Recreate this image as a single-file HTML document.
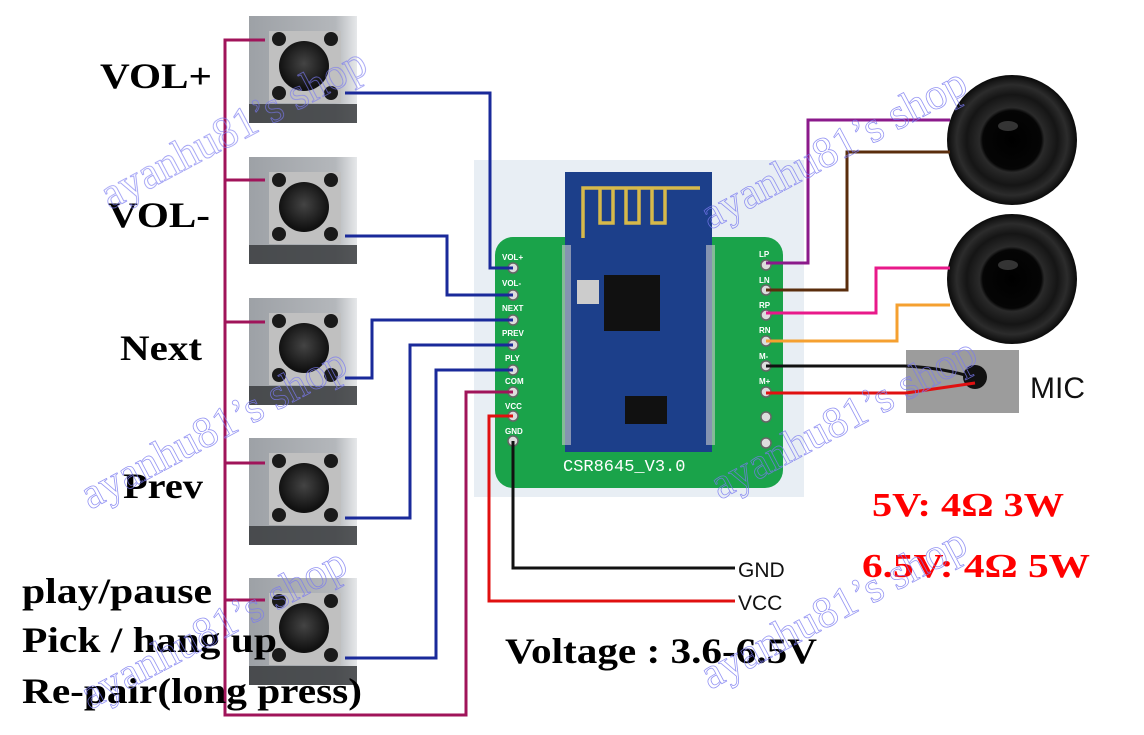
<!DOCTYPE html>
<html><head><meta charset="utf-8"><style>html,body{margin:0;padding:0;background:#fff}svg{display:block}</style></head>
<body>
<svg width="1144" height="735" viewBox="0 0 1144 735" xmlns="http://www.w3.org/2000/svg">
<defs>
<radialGradient id="btn" cx="50%" cy="45%" r="50%"><stop offset="0" stop-color="#444"/><stop offset="1" stop-color="#111"/></radialGradient>
<linearGradient id="bbg" x1="0" y1="0" x2="1" y2="0"><stop offset="0" stop-color="#9da1a6"/><stop offset="0.8" stop-color="#b4b7bb"/><stop offset="1" stop-color="#e6e8ea"/></linearGradient>
<radialGradient id="spk" cx="50%" cy="50%" r="50%"><stop offset="0" stop-color="#000"/><stop offset="0.45" stop-color="#050505"/><stop offset="0.5" stop-color="#2a2a2a"/><stop offset="0.7" stop-color="#151515"/><stop offset="0.85" stop-color="#2c2c2c"/><stop offset="1" stop-color="#0a0a0a"/></radialGradient>
<g id="button">
<rect x="0" y="0" width="108" height="107" fill="url(#bbg)"/>
<rect x="0" y="88" width="108" height="19" fill="#3a3c3e" opacity="0.85"/>
<rect x="20" y="15" width="72" height="72" fill="#c0c0c0"/>
<circle cx="55" cy="50" r="25" fill="url(#btn)"/>
<circle cx="30" cy="23" r="7" fill="#1a1a1a"/><circle cx="82" cy="23" r="7" fill="#1a1a1a"/>
<circle cx="30" cy="77" r="7" fill="#1a1a1a"/><circle cx="82" cy="77" r="7" fill="#1a1a1a"/>
</g>
</defs>

<rect x="474" y="160" width="330" height="337" fill="#e8eef4"/>
<rect x="495" y="237" width="288" height="251" rx="18" fill="#1aa34a"/>
<rect x="565" y="172" width="147" height="280" fill="#1c3f8a"/>
<path d="M583 238 V188 H700 M583 188 V236 M600 188 v35 h13 v-35 M626 188 v35 h13 v-35 M652 188 v35 h13 v-35" stroke="#d6b94a" stroke-width="3.5" fill="none"/>
<rect x="604" y="275" width="56" height="56" fill="#111"/>
<rect x="577" y="280" width="22" height="24" fill="#ccc"/>
<rect x="625" y="396" width="42" height="28" fill="#111"/>
<g fill="#ccc">
<rect x="562" y="245" width="9" height="200" opacity=".6"/>
<rect x="706" y="245" width="9" height="200" opacity=".6"/>
</g>
<text x="563" y="471" font-family="Liberation Mono, monospace" font-size="17" fill="#fff">CSR8645_V3.0</text>
<g fill="#ddd" stroke="#666" stroke-width="1.5">
<circle cx="513" cy="268" r="5"/><circle cx="513" cy="295" r="5"/><circle cx="513" cy="320" r="5"/><circle cx="513" cy="345" r="5"/>
<circle cx="513" cy="370" r="5"/><circle cx="513" cy="392" r="5"/><circle cx="513" cy="416" r="5"/><circle cx="513" cy="441" r="5"/>
<circle cx="766" cy="265" r="5"/><circle cx="766" cy="290" r="5"/><circle cx="766" cy="315" r="5"/><circle cx="766" cy="341" r="5"/>
<circle cx="766" cy="366" r="5"/><circle cx="766" cy="392" r="5"/><circle cx="766" cy="417" r="5"/><circle cx="766" cy="443" r="5"/>
</g>
<g font-family="Liberation Sans, sans-serif" font-size="8" font-weight="bold" fill="#fff">
<text x="502" y="260">VOL+</text><text x="502" y="286">VOL-</text><text x="502" y="311">NEXT</text><text x="502" y="336">PREV</text>
<text x="505" y="361">PLY</text><text x="505" y="384">COM</text><text x="505" y="409">VCC</text><text x="505" y="434">GND</text>
<text x="759" y="257">LP</text><text x="759" y="283">LN</text><text x="759" y="308">RP</text><text x="759" y="333">RN</text>
<text x="759" y="359">M-</text><text x="759" y="384">M+</text>
</g>

<use href="#button" x="249" y="16"/>
<use href="#button" x="249" y="157"/>
<use href="#button" x="249" y="298"/>
<use href="#button" x="249" y="438"/>
<use href="#button" x="249" y="578"/>

<path d="M265 40 H225 V715 H466 V392 H513 M225 180 H265 M225 322 H265 M225 463 H265 M225 600 H265" stroke="#a0145a" stroke-width="3" fill="none"/>
<g stroke="#1a2a9a" stroke-width="3" fill="none">
<path d="M345 93 H490 V268 H513"/>
<path d="M345 236 H447 V295 H513"/>
<path d="M345 378 H372 V320 H513"/>
<path d="M345 518 H410 V345 H513"/>
<path d="M345 658 H436 V370 H513"/>
</g>
<path d="M513 416 H489 V601 H735" stroke="#e01010" stroke-width="3" fill="none"/>
<path d="M513 441 V568 H735" stroke="#111" stroke-width="3" fill="none"/>

<circle cx="1012" cy="140" r="65" fill="url(#spk)"/>
<ellipse cx="1008" cy="126" rx="10" ry="5" fill="#555" opacity="0.6"/>
<circle cx="1012" cy="279" r="65" fill="url(#spk)"/>
<ellipse cx="1008" cy="265" rx="10" ry="5" fill="#555" opacity="0.6"/>
<rect x="906" y="350" width="113" height="63" fill="#9c9c9c"/>
<circle cx="975" cy="377" r="12" fill="#111"/>
<path d="M766 366 H905 Q945 368 975 378" stroke="#111" stroke-width="3" fill="none"/>
<path d="M766 393 H906 L975 383" stroke="#e01010" stroke-width="3" fill="none"/>
<text x="1030" y="398" font-family="Liberation Sans, sans-serif" font-size="30" fill="#111">MIC</text>
<g stroke-width="3" fill="none">
<path d="M766 263 H808 V120 H950" stroke="#8b1a8b"/>
<path d="M766 290 H847 V152 H950" stroke="#5a2d0c"/>
<path d="M766 313 H876 V268 H950" stroke="#e8198a"/>
<path d="M766 341 H897 V305 H950" stroke="#f5a030"/>
</g>

<g font-family="Liberation Serif, serif" font-weight="bold" font-size="36" fill="#000">
<text x="100" y="88" textLength="112" lengthAdjust="spacingAndGlyphs">VOL+</text>
<text x="108" y="227" textLength="102" lengthAdjust="spacingAndGlyphs">VOL-</text>
<text x="120" y="360" textLength="82" lengthAdjust="spacingAndGlyphs">Next</text>
<text x="123" y="498" textLength="80" lengthAdjust="spacingAndGlyphs">Prev</text>
<text x="22" y="603" textLength="190" lengthAdjust="spacingAndGlyphs">play/pause</text>
<text x="22" y="652" textLength="255" lengthAdjust="spacingAndGlyphs">Pick / hang up</text>
<text x="22" y="703" textLength="340" lengthAdjust="spacingAndGlyphs">Re-pair(long press)</text>
<text x="505" y="663" textLength="312" lengthAdjust="spacingAndGlyphs">Voltage : 3.6-6.5V</text>
</g>
<g font-family="Liberation Serif, serif" font-weight="bold" font-size="34" fill="#f00">
<text x="872" y="516" textLength="192" lengthAdjust="spacingAndGlyphs">5V: 4Ω 3W</text>
<text x="862" y="577" textLength="228" lengthAdjust="spacingAndGlyphs">6.5V: 4Ω 5W</text>
</g>
<g font-family="Liberation Sans, sans-serif" font-size="21" fill="#111">
<text x="738" y="577">GND</text>
<text x="738" y="610">VCC</text>
</g>

<g font-family="Liberation Serif, serif" font-size="44" fill="none" stroke="#7a7af0" stroke-width="0.8" opacity="0.8">
<text transform="translate(110,210) rotate(-28)">ayanhu81’s shop</text>
<text transform="translate(710,230) rotate(-28)">ayanhu81’s shop</text>
<text transform="translate(90,510) rotate(-28)">ayanhu81’s shop</text>
<text transform="translate(720,500) rotate(-28)">ayanhu81’s shop</text>
<text transform="translate(90,710) rotate(-28)">ayanhu81’s shop</text>
<text transform="translate(710,690) rotate(-28)">ayanhu81’s shop</text>
</g>
</svg>
</body></html>
